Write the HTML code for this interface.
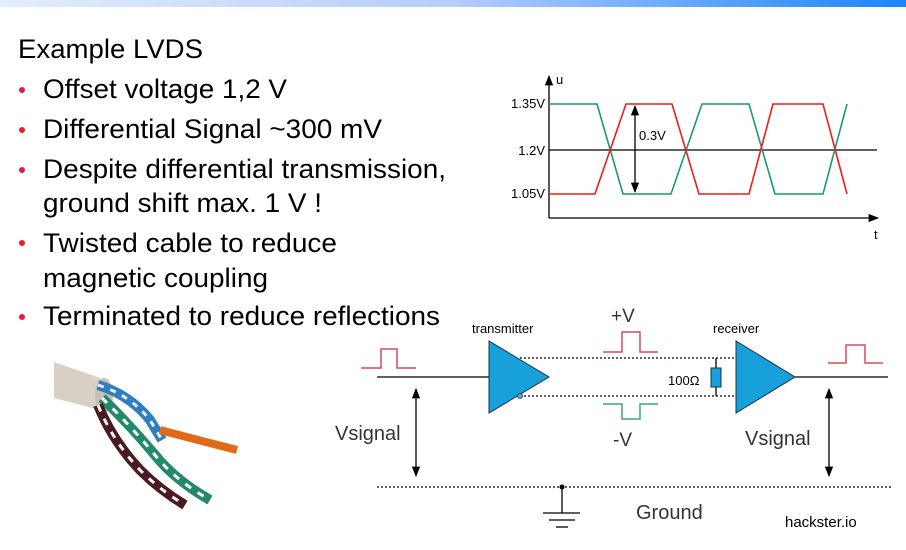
<!DOCTYPE html>
<html><head><meta charset="utf-8"><style>
html,body{margin:0;padding:0;background:#fff;}
svg{display:block;font-family:"Liberation Sans",Arial,sans-serif;}
</style></head><body>
<svg width="906" height="550" viewBox="0 0 906 550" xmlns="http://www.w3.org/2000/svg">
<defs>
<linearGradient id="tb" x1="0" x2="1" y1="0" y2="0"><stop offset="0" stop-color="#e3eefc"/><stop offset="0.5" stop-color="#b4cdfc"/><stop offset="1" stop-color="#1a85ff"/></linearGradient>
<marker id="ah" viewBox="0 0 10 10" refX="9" refY="5" markerWidth="8" markerHeight="8" orient="auto-start-reverse"><path d="M0,1 L10,5 L0,9 z" fill="#000"/></marker>
</defs>
<rect x="0" y="0" width="906" height="7" fill="url(#tb)"/>

<!-- left text -->
<g font-size="27" fill="#000" lengthAdjust="spacingAndGlyphs">
<text x="18" y="58" textLength="185" lengthAdjust="spacingAndGlyphs">Example LVDS</text>
<g fill="#e0203a"><circle cx="22" cy="90" r="3"/><circle cx="22" cy="130" r="3"/><circle cx="22" cy="170" r="3"/><circle cx="22" cy="243" r="3"/><circle cx="22" cy="317" r="3"/></g>
<text x="43" y="98" textLength="244" lengthAdjust="spacingAndGlyphs">Offset voltage 1,2 V</text>
<text x="43" y="138" textLength="339" lengthAdjust="spacingAndGlyphs">Differential Signal ~300 mV</text>
<text x="43" y="178" textLength="403" lengthAdjust="spacingAndGlyphs">Despite differential transmission,</text>
<text x="43" y="212" textLength="279" lengthAdjust="spacingAndGlyphs">ground shift max. 1 V !</text>
<text x="43" y="252" textLength="294" lengthAdjust="spacingAndGlyphs">Twisted cable to reduce</text>
<text x="43" y="287" textLength="225" lengthAdjust="spacingAndGlyphs">magnetic coupling</text>
<text x="43" y="325" textLength="397" lengthAdjust="spacingAndGlyphs">Terminated to reduce reflections</text>
</g>

<!-- chart -->
<g stroke="#000" stroke-width="1.3" fill="none">
<line x1="549" y1="218" x2="549" y2="76" marker-end="url(#ah)"/>
<line x1="549" y1="218" x2="878" y2="218" marker-end="url(#ah)"/>
<line x1="549" y1="150" x2="877" y2="150"/>
<line x1="635" y1="106" x2="635" y2="192" marker-start="url(#ah)" marker-end="url(#ah)"/>
</g>
<polyline points="549,104 597,104 623,194 671,194 702,104 749,104 775,194 823,194 847,104" fill="none" stroke="#1a9a6c" stroke-width="1.6"/>
<polyline points="549,194 595,194 626,104 672,104 699,194 749,194 773,104 823,104 847,194" fill="none" stroke="#ee1c1c" stroke-width="1.6"/>
<g font-size="13" fill="#000">
<text x="556" y="84">u</text>
<text x="874" y="239">t</text>
<text x="545" y="108" text-anchor="end">1.35V</text>
<text x="545" y="155" text-anchor="end">1.2V</text>
<text x="545" y="198" text-anchor="end">1.05V</text>
<text x="639" y="140">0.3V</text>
</g>

<!-- cable image approximation -->
<g>
<path d="M54,362 L100,378 L108,412 L54,398 z" fill="#d8d0c6"/>
<ellipse cx="104" cy="395" rx="9" ry="17" fill="#c9bfb3"/>
<path d="M98,385 Q130,395 150,420 L162,440" stroke="#2f7fc0" stroke-width="10" fill="none"/>
<path d="M98,385 Q130,395 150,420 L162,440" stroke="#e8eef4" stroke-width="3" fill="none" stroke-dasharray="6 7"/>
<path d="M160,430 Q190,438 237,450" stroke="#e06a1a" stroke-width="8" fill="none"/>
<path d="M102,398 Q130,425 155,455 Q175,480 210,500" stroke="#23896a" stroke-width="10" fill="none"/>
<path d="M102,398 Q130,425 155,455 Q175,480 210,500" stroke="#ffffff" stroke-width="3" fill="none" stroke-dasharray="7 8"/>
<path d="M98,405 Q112,440 140,470 Q160,490 185,505" stroke="#4a1a22" stroke-width="10" fill="none"/>
<path d="M98,405 Q112,440 140,470 Q160,490 185,505" stroke="#f4f4f4" stroke-width="3" fill="none" stroke-dasharray="7 8"/>
</g>

<!-- LVDS circuit -->
<g stroke="#000" stroke-width="1.3" fill="none">
<line x1="377" y1="377" x2="489" y2="377"/>
<line x1="795" y1="377" x2="888" y2="377"/>
<line x1="520" y1="358" x2="736" y2="358" stroke-dasharray="2 2"/>
<line x1="524" y1="396" x2="736" y2="396" stroke-dasharray="2 2"/>
<line x1="377" y1="487" x2="892" y2="487" stroke-dasharray="2 2"/>
<line x1="716" y1="358" x2="716" y2="396"/>
<line x1="416" y1="389" x2="416" y2="476" marker-start="url(#ah)" marker-end="url(#ah)"/>
<line x1="829" y1="389" x2="829" y2="476" marker-start="url(#ah)" marker-end="url(#ah)"/>
<line x1="562" y1="487" x2="562" y2="513"/>
<line x1="543" y1="513" x2="580" y2="513"/>
<line x1="549" y1="520" x2="575" y2="520"/>
<line x1="556" y1="527" x2="568" y2="527"/>
</g>
<circle cx="562" cy="487" r="2.5" fill="#000"/>
<polygon points="489,341 489,413 549,377" fill="#18a0db" stroke="#1c3040" stroke-width="1"/>
<polygon points="736,341 736,413 795,377" fill="#18a0db" stroke="#1c3040" stroke-width="1"/>
<circle cx="520" cy="396" r="2.5" fill="#4fb0d8" stroke="#234" stroke-width="0.8"/>
<rect x="711" y="368" width="10" height="19" fill="#18a0db" stroke="#1c3040" stroke-width="1"/>
<g fill="none" stroke-width="1.5">
<polyline points="361,368 381,368 381,349 397,349 397,368 416,368" stroke="#d84a5a"/>
<polyline points="603,352 622,352 622,332 640,332 640,352 658,352" stroke="#d84a5a"/>
<polyline points="603,404 622,404 622,419 640,419 640,404 658,404" stroke="#3aa878"/>
<polyline points="828,363 846,363 846,345 865,345 865,363 883,363" stroke="#d84a5a"/>
</g>
<g fill="#000">
<text x="472" y="333" font-size="13">transmitter</text>
<text x="713" y="333" font-size="13">receiver</text>
<text x="668" y="385" font-size="13">100Ω</text>
<text x="611" y="322" font-size="19" fill="#333">+V</text>
<text x="613" y="446" font-size="19" fill="#333">-V</text>
<text x="335" y="440" font-size="20" fill="#333">Vsignal</text>
<text x="745" y="445" font-size="20" fill="#333">Vsignal</text>
<text x="636" y="519" font-size="20" fill="#333">Ground</text>
<text x="785" y="527" font-size="15">hackster.io</text>
</g>
</svg>
</body></html>
